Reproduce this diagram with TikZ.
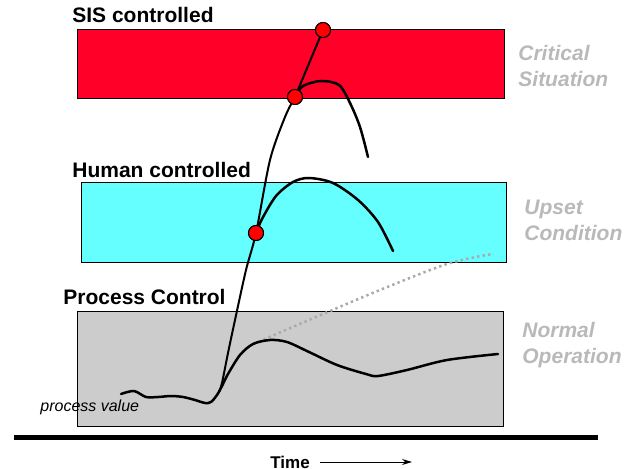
\documentclass[tikz,border=0pt]{standalone}
\usepackage{fontspec}
\setmainfont{Liberation Sans}
\usepackage{tikz}
\usetikzlibrary{positioning}
\usetikzlibrary{arrows.meta}

\definecolor{sisred}{RGB}{255,0,40}
\definecolor{humcyan}{RGB}{102,255,255}
\definecolor{pcgray}{RGB}{204,204,204}
\definecolor{lblgray}{RGB}{185,185,185}
\definecolor{dotgray}{RGB}{170,170,170}

\tikzset{
	zone/.style = {draw, rectangle, line width=0.5pt, inner sep=0pt},
	zonetitle/.style = {anchor=west, inner sep=0pt, font=\fontsize{10.5}{12}\selectfont\bfseries},
	zonestate/.style = {anchor=west, inner sep=0pt, align=left, text=lblgray, font=\fontsize{10.5}{13}\selectfont\bfseries\itshape},
	trip/.style = {draw, circle, fill=red, line width=0.5pt, minimum size=7.5pt, inner sep=0pt},
	pv/.style = {line width=1.25pt, line cap=round, line join=round}
}

\begin{document}
\begin{tikzpicture}[x=0.5pt, y=-0.5pt]
		\useasboundingbox (0,0) rectangle (636,469);
		% layers
		\node[zone, fill = sisred, minimum width = 213.5pt, minimum height = 34.25pt] at (290.5,64.25) (sis) {};
		\node[zone, fill = humcyan, minimum width = 212.5pt, minimum height = 40pt] at (293.5,223) (hum) {};
		\node[zone, fill = pcgray, minimum width = 213pt, minimum height = 57pt] at (290,369) (pc) {};
		\node[zonetitle] at (72,15) (sistitle) {SIS controlled};
		\node[zonetitle] at (72,170) (humtitle) {Human controlled};
		\node[zonetitle] at (63,297) (pctitle) {Process Control};
		\node[zonestate] at (518,66) (sisstate) {Critical\\Situation};
		\node[zonestate] at (524,220) (humstate) {Upset\\Condition};
		\node[zonestate] at (522,345) (pcstate) {Normal\\Operation};
		% trend lines
		\draw[dotgray, line width=1.25pt, dash pattern=on 1.2pt off 1.6pt] plot[smooth] coordinates {(253,344) (309,320) (380,290) (447,264) (492,254)};
		\draw[pv] plot[smooth] coordinates {(121,394) (134,391) (146,397) (158,397) (171,396) (183,397) (195,400) (205,403) (211,402) (217,395) (222,386) (228,374) (240,355) (253,344) (270,340) (287,342) (309,352) (337,365) (366,374) (378,376) (407,370) (447,360) (498,354)};
		\coordinate (start) at (219,392);
		\node[trip] at (256,233) (t1) {};
		\node[trip] at (295,97) (t2) {};
		\node[trip] at (323,30) (t3) {};
		\draw[pv, line width=1pt] plot[smooth] coordinates {(start) (222,383) (228,353) (235,320) (246,270) (256,233) (270,160) (285,117) (295,97)} -- (t3.center);
		\draw[pv] plot[smooth] coordinates {(t1.center) (262,219) (276,196) (293,182) (309,178) (333,183) (358,200) (378,222) (393,251)};
		\draw[pv] plot[smooth] coordinates {(t2.center) (303,86) (321,81) (339,85) (350,103) (360,127) (368,157)};
		% redraw dots on top
		\node[trip] at (t1) {};
		\node[trip] at (t2) {};
		\node[trip] at (t3) {};
		\node[anchor=west, inner sep=0pt, font=\fontsize{8}{9}\selectfont\itshape] at (40,407) (pvlabel) {process value};
		% time axis
		\coordinate (axl) at (14,437);
		\coordinate (axr) at (598,437);
		\draw[line width=2.5pt] (axl) -- (axr);
		\node[anchor=west, inner sep=0pt, font=\fontsize{8.5}{10}\selectfont\bfseries] at (270,462) (time) {Time};
		\coordinate (tend) at (412,462);
		\draw[line width=0.5pt, -{Stealth[length=5pt, width=3pt]}] ([xshift=5pt]time.east) -- (tend);
	\end{tikzpicture}
\end{document}
